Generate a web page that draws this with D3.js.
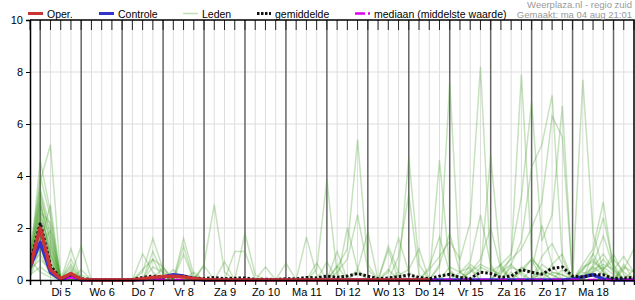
<!DOCTYPE html>
<html>
<head>
<meta charset="utf-8">
<script src="https://cdn.jsdelivr.net/npm/d3@7"></script>
<style>
body { margin: 0; background: #fff; }
svg { display: block; font-family: "Liberation Sans", Arial, sans-serif; }
</style>
</head>
<body>
<svg id="chart" width="635" height="300"></svg>
<script>
// run starts ma 04 aug 18:00, one value per 6 hours
const START = new Date(2025, 7, 4, 18), STEP_H = 6;
const yTicks = [0, 2, 4, 6, 8, 10];
const dayNames = ["Zo", "Ma", "Di", "Wo", "Do", "Vr", "Za"];

const oper = [0.5, 2.0,0.4,0.05,0.25, 0.02,0,0,0, 0,0,0.05,0.1, 0.13,0.14,0.12,0.06, 0.02,0,0,0, 0,0,0,0, 0,0,0,0, 0,0,0,0, 0,0,0,0, 0,0,0];
const controle = [0.5, 1.45,0.3,0.02,0.15, 0,0,0,0, 0,0,0.02,0.06, 0.12,0.2,0.15,0.05, 0,0,0,0, 0,0,0,0, 0,0,0,0, 0,0,0,0, 0,0,0,0, 0,0,0,0, 0,0,0,0, 0,0,0,0, 0,0,0,0, 0.03,0.12,0.2,0.04, 0,0,0];
const gemiddelde = [0.6, 2.2,0.55,0.05,0.2, 0.05,0.02,0.01,0, 0,0.02,0.1,0.15, 0.12,0.12,0.15,0.08, 0.05,0.1,0.05,0.07, 0.08,0.02,0.03,0.02, 0.05,0.04,0.1,0.08, 0.15,0.1,0.15,0.25, 0.15,0.05,0.08,0.12, 0.2,0.1,0.05,0.15, 0.22,0.1,0.05,0.3, 0.25,0.1,0.15,0.4, 0.3,0.22,0.45,0.5, 0.15,0.12,0.2,0.2, 0.05,0.08,0.1];
const mediaan = [0.5, 2.1,0.45,0,0.1, 0,0,0,0, 0,0,0,0, 0,0,0,0, 0,0,0,0, 0,0,0,0, 0,0,0,0, 0,0,0,0, 0,0,0,0, 0,0,0,0, 0,0,0,0, 0,0,0,0, 0,0,0,0, 0,0,0,0, 0,0,0];

const leden = [
  [0.6, 4.6,2.6,0,0.3, 0,0,0,0, 0,0,0.3,1.6, 0.4,0,0,0, 0,0,0,0, 0,0,0,0, 0,0,0,0.4, 3.85,0.2,0,0, 0,0,0,0, 0,0,0,0.5, 7.6,0.3,0,0, 0,0,0,0, 0.4,2.1,0.6,0, 0,0,0.3,0.5, 0.2,0,0],
  [0.3, 3.8,5.2,0.1,0, 0,0,0,0, 0,0,0,0, 0,0,0,0, 0.6,2.9,0.3,0, 0,0,0,0, 0,0,0,0, 0,0.5,1.2,5.4, 0.6,0,0,0, 0,0,0.4,0.9, 1.5,0.8,2.2,8.2, 0.5,0,0,0.3, 0.8,0.4,0.2,0, 0,0.6,1.2,3.0, 0.4,0,0],
  [0.8, 3.2,1.8,0,1.2, 0,0,0,0, 0,0,0,0, 0,0,1.6,0.2, 0,0,0,0, 0,0,0,0, 0,0,0,0, 0,0,0,0, 0,0,0,0.3, 4.7,0.6,0,0, 0,0,0.3,0.6, 0.4,0.2,0.9,7.9, 0.9,0.3,0,0, 0,0.4,0.8,0.3, 0,0.5,0.3],
  [0.5, 2.9,1.5,0,0, 0.2,0,0,0, 0,0,0,0, 0,0,0,0, 0,0,0,0, 1.8,0.2,0,0, 0,0,0,0, 0,0,0,0.3, 0,0,0,0.2, 0.4,1.2,0,4.6, 0.4,0,0,0, 0,0.3,0.6,1.5, 4.35,5.2,7.1,0.8, 0,0,0.5,0.2, 0,0,0],
  [1.0, 2.6,2.2,0.05,0.5, 0,0,0,0, 0,0,0,0, 0,0,0,0, 0,0,0,0, 0,0,0,0, 0,0,1.65,0.2, 0,0,0,0, 0,0,0.4,0, 0,0,0,0, 0,0,0.6,0.3, 4.8,0.5,0,0, 0,0,0.3,0.2, 0,7.7,1.8,0.4, 0,0,0],
  [0.2, 2.4,1.2,0,0.2, 1.3,0,0,0, 0,0,0,0, 0,0,1.3,0, 0,0,0,0, 0,0,0,0, 0,0,0,0, 0,0,2.0,0.4, 0,0,0,0, 0,0,0,0, 0,0,0,0.5, 0.3,0.6,1.0,3.2, 6.85,1.5,2.5,6.7, 0,0,0.3,0.8, 0.3,0,0],
  [0.4, 2.2,1.0,0,0.8, 0,0,0,0, 0,0,0,1.1, 0.2,0,0,0, 0,0,0,1.1, 1.1,0,0,0, 0,0,0,0, 0,0,0,0, 0,0,0,0, 0,0,0,0, 0,0,0,0, 0,0.4,0.8,1.2, 2.0,3.0,6.3,5.5, 0,0.5,0.7,0.4, 0.8,0.3,0],
  [0.7, 2.0,0.8,0,0, 0,0,0,0, 0,0,1.0,0.3, 0,0,0,0, 0,0,0,0, 0,0,0,0, 0,0,0,0, 0,0,0,0, 0,0,0.3,1.6, 0.3,0,0,0, 0.5,0.3,0.7,2.5, 0.6,0,0,0, 0,0.3,0.2,0, 0,0.4,1.0,2.4, 0.6,0,0],
  [0.3, 1.8,0.6,0,0.4, 0,0,0,0, 0,0,0.4,0.8, 0.5,0,0,0, 0,0,0,0, 0,0,0,0, 0,0,0,0, 0,0.3,0.8,2.5, 0.4,0,0,0, 0,0,0,0, 0,0,0,0, 0,0,0.5,0.3, 0,0.9,1.4,0.6, 0,0.2,0.5,1.0, 0.4,0,0],
  [0.5, 1.6,0.5,0,0, 0.4,0,0,0, 0,0,0,0.5, 0.3,0,0,0, 0,0,0,0, 0,0,0,0, 0,0,0,0, 0,0,0,0.4, 1.85,0,0,0, 0,0,0,0, 0.3,0,0.3,0.8, 2.0,0.4,0,0, 0,0.6,0.3,0.2, 0,0,1.0,0.3, 0,0.6,0],
  [0.9, 1.4,2.9,0,0, 0,0,0,0, 0,0,0,0, 0,0,0,0, 0,0,0,0, 0,0,0,0, 0,0,0,0, 0,1.1,0,0, 0,0,0,0, 0,0,0,0.6, 1.8,0.3,0,0, 0,0,0.3,0, 0,0,0,0, 0,0,0.4,0.6, 0.4,0.9,0.3],
  [0.1, 1.2,0.3,0,0.6, 0,0,0,0, 0,0,0,0, 0,0,0,0, 0,0,0,0, 0,0,0,0, 0,0,0,0, 0,0,0,0, 0,0,1.3,0.3, 0,0,0,0, 0,0,0,0, 0,0,0.6,0.2, 0,0.3,0,0, 0,0,0,0.4, 1.0,0.2,0],
  [0.6, 1.0,0.2,0,0, 0,0,0,0, 0,0,0,0, 0,0,0,0, 0,0,0,0, 0,0,0.5,0, 0,0,0,0, 0,0,0,0, 0,0,0,0.9, 3.3,0.2,0,0, 0,0,0,0, 0,0,0,0.4, 0.8,0,0,0, 0,0,0,0, 0,0.4,1.2],
  [0.4, 0.8,0.4,0,0.2, 0,0,0,0, 0,0,0,0, 0,0,0,0, 0,0,0,0, 0,0,0,0, 0.65,0,0,0, 0,0,0,0, 0,0,0,0, 0,0,0.5,1.65, 0.3,0,0,0, 0,0,0,0, 0,0,0.6,1.0, 0,0.3,0.2,0, 0,0,0.4],
  [0.2, 0.5,0.2,0,0, 0,0,0,0, 0,0,0,0, 0,0,0,0, 0,0,0.7,0, 0,0,0,0, 0,0,0,0.65, 0,0,0,0, 0,0,0,0, 0,0,0,0, 0,0,0,0, 0,0,0,0, 0,0,0,0, 0,0,0,0, 0,0,0],
  [1.2, 3.5,2.0,0.05,0, 0,0,0,0, 0,0,0,0, 0.5,0,1.0,0, 0,0,0,0, 0,0,0,0, 0,0,0,0, 0,0,0,0, 0,0,0,0, 0,0,0,0, 0,0,0.4,0, 0,0,0,0, 0,0,0,0, 0,0,0,0, 0,0,0],
  [0.3, 3.0,1.4,0,0.3, 0,0,0,0, 0,0,0,0, 0,0,0,0, 0.55,0,0,0, 0,0,0,0, 0,0,0,0, 0.7,0,0,0, 0,0,0,0, 0,0,0,0, 0,0,0,0, 0,0,0,0, 0,0,0,0.4, 0,0,0,0, 0,0,0],
  [0.6, 2.7,1.0,0,0, 0,0,0,0, 0,0,0,0, 0,0,0,0, 0,0,0,0, 0,0,0,0, 0,0,0,0, 0,0.55,0,0, 0,0,1.15,0, 0,0,0,0, 0,0,0,0, 0,0,0,0, 0,0,0,0, 0,0,0,0, 0,0,0],
  [0.5, 2.3,0.9,0,0.1, 0,0,0,0, 0,0,0,0.8, 0,0.4,0,0, 0,0,0,0, 0,0,0,0, 0,0,0,0, 0,0,0,0, 0,0,0,0, 0,0,0,0, 0,0,0,0, 0,0,0,0, 0,0,0,0, 0,0,0,0, 0,0,0],
  [0.4, 1.9,0.7,0,0, 0,0,0,0, 0,0,0,0, 0,0,0,0.3, 0,0,0,0, 0,0,0,0, 0,0,0,0, 0,0,0,0, 0,0,0,0, 0,0,0,0, 0,0.3,0.5,0, 0,0.6,0,0, 0,0,0,0, 0,0,0,0, 0,0,0],
  [0.7, 4.0,2.4,0,0, 0,0,0,0, 0,0,0,0, 0,0,0,0, 0,0,0,0, 0,0,0,0, 0,0,0,0, 0,0,0,0, 0,0,0,0, 0,0,0,0, 0,0,0,0, 0,0,0,0, 0,0,0,0, 0,0,0,0, 0,0,0],
  [0.2, 3.4,1.6,0,0, 0,0,0,0, 0,0,0,0, 0,0,0,0, 0,0,0,0, 0,0,0,0, 0,0,0,0, 0,0,0,0, 0,0,0,0, 0,0,0,0, 0,0,0,0, 0,0,0,0, 0,0,0,0, 0,0,0,0, 0,0,0],
  [0.5, 2.1,1.1,0,0, 0,0,0,0, 0,0,0,0, 0,0,0,0, 0,0,0,0, 0,0,0,0, 0,0,0,0, 0,0,0,0, 0,0,0,0, 0,0,0,0, 0,0,0,0, 0,0,0,0, 0,0,0,0, 0,0,0.6,1.7, 0.5,0,0],
  [0.3, 1.5,0.5,0,0, 0,0,0,0, 0,0,0,0, 0,0,0,0, 0,0,0,0, 0,0,0,0, 0,0,0,0, 0,0,0,0, 0,0,0,0, 0,0,0,0, 0,0,0,0, 0,0,0,0.5, 0.3,0,0,0, 0,0,0,0, 0,0,0],
  [0.8, 0.3,0.1,0,0, 0,0,0,0, 0,0,0,0, 0,0,0,0, 0,0,0,0, 0,0,0,0, 0,0,0,0, 0,0,0,0, 0,0,0,0, 0,0,0,0, 0,0,0,0, 0,0,0,0, 0,0,0,0, 0,0,0,0, 0,0,0],
  [0, 2.5,1.3,0.1,0, 0,0,0,0, 0,0,0,0, 0,0,0,0, 0,0,0,0, 0,0,0,0, 0,0,0,0, 0,0,0,0, 0,0,0,0, 0,0,0,0, 0,0,0,0, 0,0,0,0, 0,0,0,0, 0,0,0,0, 0,0,0],
  [0.9, 3.1,0.7,0,0.2, 0,0,0,0, 0,0,0,0, 0,0,0,0, 0,0,0,0, 0,0,0,0, 0,0,0,0, 0,0,0,0, 0,0,0,0, 0,0,0,0, 0,0,0,0, 0,0,0,0, 0,0,0,0, 0,0,0,0, 0,0,0],
  [0.4, 1.3,1.9,0,0, 0,0,0,0, 0,0,0,0, 0,0,0,0, 0,0,0,0, 0,0,0,0, 0,0,0,0, 0,0,0,0, 0,0,0,0, 0,0,0,0, 0,0,0,0, 0,0,0,0, 0,0,0,0, 0,0,0,0, 0,0,0]
];

const LEFT = 30, RIGHT = 634, TOP = 20, BOTTOM = 280,
    COLOR_OPER = "#cc3333",
    COLOR_CONTROLE = "#3333cc",
    COLOR_LEDEN = "rgb(70,160,40)",
    COLOR_MEDIAAN = "#dd00ee",
    COLOR_GRID = "#dddddd",
    COLOR_DAY = "#666666",
    FONT = 11,
    FONT_LEGEND = 10.5;

const svg = d3.select("#chart");
const t = i => d3.timeHour.offset(START, i * STEP_H);

const x = d3.scaleTime().domain([t(0), t(59)]).range([LEFT, RIGHT]);
const y = d3.scaleLinear().domain([0, 10]).range([BOTTOM, TOP]);

const hours = d3.timeHour.every(6).range(t(0), d3.timeHour.offset(t(59), 1));
const noons = d3.timeDay.range(START, t(59))
    .map(d => d3.timeHour.offset(d, 12))
    .filter(d => d > t(0) && d < t(59));

// grid
const grid = svg.append("g");
grid.selectAll(".hgrid")
    .data(yTicks.filter(v => v > 0 && v < 10))
    .join("line")
    .attr("x1", LEFT).attr("x2", RIGHT)
    .attr("y1", d => y(d)).attr("y2", d => y(d))
    .attr("stroke", COLOR_GRID);

grid.selectAll(".vgrid")
    .data(hours.filter(h => x(h) > LEFT + 1 && x(h) < RIGHT - 1))
    .join("line")
    .attr("x1", d => x(d)).attr("x2", d => x(d))
    .attr("y1", TOP).attr("y2", BOTTOM)
    .attr("stroke", d => d.getHours() === 0 ? COLOR_DAY : COLOR_GRID)
    .attr("stroke-width", d => d.getHours() === 0 ? 1.5 : 1);

// top tick marks
svg.append("g").selectAll("line")
    .data(hours)
    .join("line")
    .attr("x1", d => x(d)).attr("x2", d => x(d))
    .attr("y1", TOP).attr("y2", TOP + 10)
    .attr("stroke", "#222");

// data lines
svg.append("clipPath").attr("id", "plot")
    .append("rect")
    .attr("x", LEFT).attr("y", TOP)
    .attr("width", RIGHT - LEFT).attr("height", BOTTOM - TOP + 3);

const line = d3.line()
    .x((d, i) => x(t(i)))
    .y(d => y(d));

const plot = svg.append("g").attr("clip-path", "url(#plot)").attr("fill", "none");

plot.append("g")
    .selectAll("path")
    .data(leden)
    .join("path")
    .attr("d", line)
    .attr("stroke", COLOR_LEDEN)
    .attr("stroke-opacity", 0.3)
    .attr("stroke-width", 1.5);

plot.append("path").attr("d", line(controle))
    .attr("stroke", COLOR_CONTROLE).attr("stroke-width", 3.5).attr("stroke-linejoin", "round");
plot.append("path").attr("d", line(mediaan))
    .attr("stroke", COLOR_MEDIAAN).attr("stroke-width", 2.5).attr("stroke-dasharray", "10,3,2,3");
plot.append("path").attr("d", line(gemiddelde))
    .attr("stroke", "#111").attr("stroke-width", 3).attr("stroke-dasharray", "2.5,2");
plot.append("path").attr("d", line(oper))
    .attr("stroke", COLOR_OPER).attr("stroke-width", 3.5).attr("stroke-linejoin", "round");

// frame
svg.append("path")
    .attr("d", `M${LEFT},${TOP}H${RIGHT}V${BOTTOM}`)
    .attr("fill", "none").attr("stroke", "#000").attr("stroke-width", 1.5);

// axes
const yAxis = svg.append("g")
    .attr("transform", `translate(${LEFT},0)`)
    .call(d3.axisLeft(y).tickValues(yTicks).tickSize(4).tickPadding(3));
yAxis.select(".domain").attr("stroke-width", 1.5);
yAxis.selectAll("text").attr("font-size", FONT).attr("font-family", null).attr("fill", "#000");

const xTicks = svg.append("g")
    .attr("transform", `translate(0,${BOTTOM})`)
    .call(d3.axisBottom(x).tickValues(hours).tickSize(5).tickFormat(""));
xTicks.select(".domain").attr("stroke-width", 1.5);

const xLabels = svg.append("g")
    .attr("transform", `translate(0,${BOTTOM})`)
    .call(d3.axisBottom(x).tickValues(noons).tickSize(0).tickPadding(8)
        .tickFormat(d => dayNames[d.getDay()] + " " + d.getDate()));
xLabels.select(".domain").remove();
xLabels.selectAll("text").attr("font-size", FONT).attr("font-family", null).attr("fill", "#000");

// legend
const legend = [
    {label: "Oper.", x: 28, stroke: COLOR_OPER, width: 3},
    {label: "Controle", x: 99, stroke: COLOR_CONTROLE, width: 3},
    {label: "Leden", x: 183, stroke: COLOR_LEDEN, width: 1.5, opacity: 0.35},
    {label: "gemiddelde", x: 257, stroke: "#111", width: 3, dash: "2.5,1.5", len: 14},
    {label: "mediaan (middelste waarde)", x: 355, stroke: COLOR_MEDIAAN, width: 2.5, dash: "10,3,2,3", len: 15}
];
const lg = svg.append("g").selectAll("g").data(legend).join("g");
lg.append("line")
    .attr("x1", d => d.x).attr("x2", d => d.x + (d.len || 15))
    .attr("y1", 13.5).attr("y2", 13.5)
    .attr("stroke", d => d.stroke)
    .attr("stroke-width", d => d.width)
    .attr("stroke-opacity", d => d.opacity || 1)
    .attr("stroke-dasharray", d => d.dash || null);
lg.append("text")
    .attr("x", d => d.x + (d.len || 15) + 4)
    .attr("y", 17.5)
    .attr("font-size", FONT_LEGEND)
    .text(d => d.label);

svg.append("text").attr("x", 632).attr("y", 8).attr("text-anchor", "end")
    .attr("font-size", 9.5).attr("fill", "#999").text("Weerplaza.nl - regio zuid");
svg.append("text").attr("x", 632).attr("y", 17.5).attr("text-anchor", "end")
    .attr("font-size", 9.5).attr("fill", "#999").text("Gemaakt: ma 04 aug 21:01");
</script>
</body>
</html>
